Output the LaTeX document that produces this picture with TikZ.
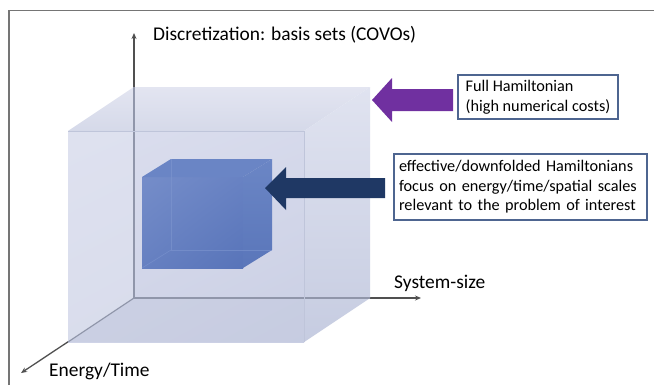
\documentclass[tikz,border=0pt]{standalone}
\usepackage{fontspec}
\setmainfont{Carlito}
\usetikzlibrary{arrows.meta,shadings}
\definecolor{framegray}{HTML}{757575}
\definecolor{axisdark}{HTML}{505050}
\definecolor{axislight}{HTML}{9096AA}
\definecolor{boxline}{HTML}{4E6590}
\definecolor{fullpurple}{HTML}{7030A0}
\definecolor{effnavy}{HTML}{1F3864}
% large cube tones
\definecolor{bigfrontA}{HTML}{DBDEEE}
\definecolor{bigfrontB}{HTML}{CACFE4}
\definecolor{bigtopA}{HTML}{E3E5F1}
\definecolor{bigtopB}{HTML}{D5D9E9}
\definecolor{bigsideA}{HTML}{E0E3F0}
\definecolor{bigsideB}{HTML}{C6CCE1}
\definecolor{bigleft}{HTML}{E2E5F1}
\definecolor{bigbottom}{HTML}{C3C9DE}
\definecolor{bigedge}{HTML}{BFC5DA}
% small cube tones
\definecolor{smUL}{HTML}{758DC9}
\definecolor{smLR}{HTML}{5874B9}
\definecolor{smUR}{HTML}{6882C3}
\definecolor{smLL}{HTML}{6680C1}
\definecolor{smtop}{HTML}{6A85C5}
\definecolor{smsideA}{HTML}{6B86C5}
\definecolor{smsideB}{HTML}{5A76BA}
\definecolor{smedge}{HTML}{7E96CF}
\tikzset{
  lbl/.style={font=\fontsize{19.5}{23}\selectfont, inner sep=0pt, text=black},
  infobox/.style={draw=boxline, line width=1.1bp, fill=white, align=left,
    font=\fontsize{16.3}{19.7}\selectfont, inner ysep=0pt},
  axisline/.style={draw=axisdark, line width=1.3bp,
    -{Stealth[length=6bp,width=5bp]}},
  hiddenedge/.style={draw=axislight, line width=1.2bp},
}
\begin{document}
\begin{tikzpicture}[x=1bp,y=-1bp]
\useasboundingbox (0,0) rectangle (654,385);
\fill[white] (0,0) rectangle (654,385);

% frame lines along the top and left
\draw[framegray, line width=1.5bp] (9,385) -- (9,10.5) -- (654,10.5);

% axes meeting at the hidden back corner of the large cube
\coordinate (O) at (134,298);
\coordinate (ytip) at (134,33);
\coordinate (xtip) at (421,298);
\coordinate (ztip) at (21,373);
\draw[axisline] (O) -- (ytip);
\draw[axisline] (O) -- (xtip);
\draw[axisline] (O) -- (ztip);

% large translucent cube: front (68,131)-(304,342), depth offset (66,-44)
\shade[upper left=bigfrontA, upper right=bigfrontA!70!bigfrontB,
       lower left=bigfrontA!40!bigfrontB, lower right=bigfrontB]
  (68,131) rectangle (304,342);
\fill[bigleft, opacity=0.5] (68,131) -- (134,87) -- (134,298) -- (68,342) -- cycle;
\fill[bigbottom, opacity=0.45] (68,342) -- (134,298) -- (370,298) -- (304,342) -- cycle;
\shade[top color=bigtopA, bottom color=bigtopB]
  (68,131) -- (134,87) -- (370,87) -- (304,131) -- cycle;
\shade[top color=bigsideA, bottom color=bigsideB]
  (304,131) -- (370,87) -- (370,298) -- (304,342) -- cycle;
% back edges seen through the faces
\draw[hiddenedge] (134,87) -- (O) -- (370,298);
\draw[hiddenedge] (O) -- (68,342);
\draw[bigedge, line width=0.6bp] (304,131) -- (304,342);
\draw[bigedge, line width=0.6bp] (68,131) -- (304,131);

% small cube: front (142,177)-(243,268), depth offset (29,-18)
\shade[upper left=smUL, upper right=smUR, lower left=smLL, lower right=smLR]
  (142,177) rectangle (243,268);
\fill[smtop] (142,177) -- (171,159) -- (272,159) -- (243,177) -- cycle;
\shade[top color=smsideA, bottom color=smsideB]
  (243,177) -- (272,159) -- (272,250) -- (243,268) -- cycle;
\draw[smedge, line width=0.6bp, opacity=0.6] (171,159) -- (171,250) -- (272,250);
\draw[smedge, line width=0.6bp, opacity=0.6] (171,250) -- (142,268);

% info boxes
\node[infobox, minimum width=160bp, minimum height=44bp, inner xsep=5bp]
  (full) at (538,97) {Full Hamiltonian\\(high numerical costs)};
\node[infobox, minimum width=253bp, minimum height=66bp, text width=243bp,
      inner xsep=5bp] (eff) at (520.5,187)
  {effective/downfolded Hamiltonians\\focus on energy/time/spatial scales\\relevant to the problem of interest};

% block arrows pointing from the boxes towards the cubes
\fill[fullpurple] (372,100) -- (392,78) -- (392,89) -- (453,89) -- (453,111)
  -- (392,111) -- (392,122) -- cycle;
\fill[effnavy] (265,188) -- (286,167) -- (286,178) -- (385,178) -- (385,198)
  -- (286,198) -- (286,210) -- cycle;

% axis labels
\node[lbl, anchor=west] (ylab) at (153,35) {Discretization: basis sets (COVOs)};
\node[lbl, anchor=west] (xlab) at (394,283) {System-size};
\node[lbl, anchor=west] (zlab) at (49,371) {Energy/Time};
\end{tikzpicture}
\end{document}
